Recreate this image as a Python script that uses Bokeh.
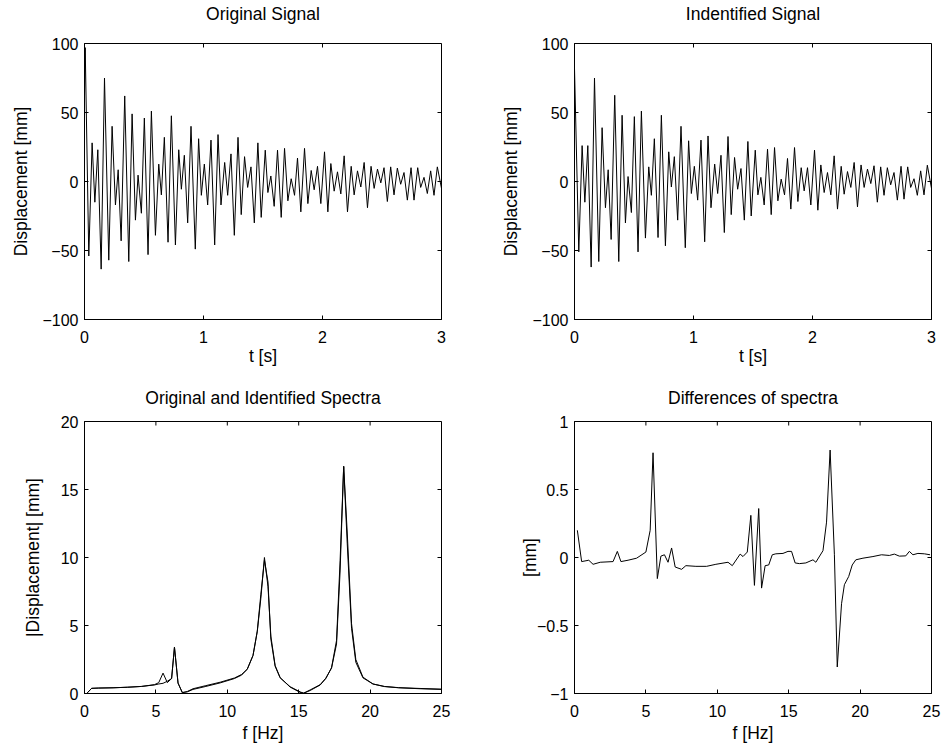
from bokeh.plotting import figure
from bokeh.models import Range1d, FixedTicker, LinearAxis
from bokeh.layouts import gridplot
from bokeh.embed import file_html
from bokeh.resources import INLINE

FONT = "Liberation Sans"

# ---- Data ----
# Original signal: (time [s], displacement [mm]) at its turning points
original_signal = [
    (0.0, 62), (0.006, 97), (0.036, -54), (0.064, 28), (0.087, -15), (0.112, 23), (0.140, -63.5),
    (0.168, 75), (0.204, -57), (0.232, 40), (0.260, -17), (0.283, 8.5), (0.308, -43), (0.338, 62),
    (0.372, -58), (0.400, 49), (0.428, -28), (0.450, 4.6), (0.478, -23), (0.503, 46), (0.534, -53),
    (0.562, 51), (0.596, -39), (0.624, 12.6), (0.646, -9.7), (0.671, 32), (0.702, -44), (0.730, 47.6),
    (0.764, -46), (0.792, 23), (0.814, -5.6), (0.839, 19), (0.867, -30), (0.895, 40), (0.931, -49),
    (0.959, 31), (0.982, -10), (1.007, 12.6), (1.035, -17), (1.063, 30), (1.094, -46), (1.122, 34),
    (1.147, -17), (1.178, 13.8), (1.203, -10), (1.231, 20), (1.259, -39), (1.290, 32), (1.317, -24),
    (1.345, 18), (1.371, -4.3), (1.399, 10.6), (1.427, -30), (1.457, 28), (1.485, -26), (1.519, 22.7),
    (1.541, -8), (1.566, 4), (1.594, -18), (1.622, 22.7), (1.653, -26), (1.681, 24), (1.709, -14),
    (1.737, 2), (1.765, -10), (1.790, 17), (1.818, -22), (1.849, 24), (1.877, -16), (1.905, 8),
    (1.930, -6), (1.958, 11), (1.986, -16), (2.017, 21.5), (2.045, -22), (2.070, 13), (2.098, -7),
    (2.126, 7), (2.154, -9), (2.182, 18.6), (2.210, -22), (2.241, 11), (2.266, -9.7), (2.294, 7.7),
    (2.322, -4), (2.350, 13.8), (2.378, -19), (2.408, 11), (2.434, -5), (2.462, 9), (2.490, -1),
    (2.517, 10), (2.545, -14.5), (2.573, 10.6), (2.601, -9.7), (2.629, 9.7), (2.657, -2), (2.685, 6.5),
    (2.713, -13.5), (2.744, 10), (2.769, -13.5), (2.800, 10), (2.825, -4.3), (2.853, 3), (2.881, -8.7),
    (2.909, 7.7), (2.937, -10), (2.965, 10.6), (3.0, -5),
]

# Identified signal: (time [s], displacement [mm])
identified_signal = [
    (0.0, 82), (0.036, -51), (0.064, 26), (0.087, -15), (0.112, 26), (0.140, -62),
    (0.168, 75), (0.204, -58), (0.232, 39), (0.260, -19), (0.283, 8.5), (0.308, -42), (0.338, 62.5),
    (0.372, -58), (0.400, 48), (0.428, -30), (0.450, 3.6), (0.478, -22.5), (0.503, 47), (0.534, -51),
    (0.562, 51), (0.596, -41), (0.624, 10.6), (0.646, -10), (0.671, 31), (0.702, -40.6), (0.730, 48),
    (0.764, -46.6), (0.792, 21.5), (0.814, -4), (0.839, 18), (0.867, -28), (0.895, 40), (0.931, -48),
    (0.959, 29.5), (0.982, -8.7), (1.007, 11), (1.035, -13.5), (1.063, 30), (1.094, -43.7), (1.122, 33),
    (1.147, -19), (1.178, 12.6), (1.203, -8.7), (1.231, 19), (1.259, -37), (1.290, 32.6), (1.317, -24),
    (1.345, 17.4), (1.371, -5.6), (1.399, 9.4), (1.427, -28), (1.457, 29), (1.485, -25), (1.519, 22.7),
    (1.541, -9.7), (1.566, 3), (1.594, -17), (1.622, 23.4), (1.653, -24), (1.681, 24.6), (1.709, -14),
    (1.737, 1.7), (1.765, -9.7), (1.790, 16.7), (1.818, -20), (1.849, 24.6), (1.877, -14.5), (1.905, 10),
    (1.930, -6.8), (1.958, 10), (1.986, -17), (2.017, 22.7), (2.045, -20.8), (2.070, 12), (2.098, -8),
    (2.126, 6.5), (2.154, -9.7), (2.182, 18.6), (2.210, -20), (2.241, 11), (2.266, -9.2), (2.294, 7.2),
    (2.322, -4.3), (2.350, 13.8), (2.378, -18.4), (2.408, 12), (2.434, -4.3), (2.462, 9), (2.490, -1.5),
    (2.517, 11.4), (2.545, -15), (2.573, 10.6), (2.601, -10), (2.629, 10), (2.657, -2.4), (2.685, 6.5),
    (2.713, -13.5), (2.744, 11), (2.769, -12.8), (2.800, 10.6), (2.825, -4.3), (2.853, 2), (2.881, -10),
    (2.909, 7.7), (2.937, -9.7), (2.965, 11.8), (3.0, -5),
]

# Spectra: frequency [Hz], original |X| [mm], identified |X| [mm]
spec_freq = [0.2, 0.5, 1.0, 2.0, 3.0, 4.0, 4.9, 5.2, 5.5, 5.8, 6.1, 6.3, 6.55, 6.85, 7.2, 7.6,
             8.5, 9.5, 10.5, 11.0, 11.4, 11.8, 12.1, 12.35, 12.6, 12.85, 13.05, 13.35, 13.7, 14.4,
             15.1, 15.35, 15.8, 16.5, 16.9, 17.3, 17.65, 17.9, 18.15, 18.4, 18.7, 19.0, 19.5, 20.2,
             21.0, 22.0, 23.5, 25.0]
spec_original = [0.05, 0.38, 0.40, 0.42, 0.46, 0.52, 0.65, 0.80, 1.50, 0.80, 1.10, 3.42, 0.75, 0.08,
                 0.12, 0.30, 0.52, 0.78, 1.10, 1.35, 1.80, 2.80, 4.60, 7.30, 9.80, 8.20, 4.00, 2.00,
                 1.15, 0.50, 0.12, 0.02, 0.22, 0.62, 1.10, 1.90, 3.90, 9.80, 16.7, 11.0, 4.80, 2.30,
                 1.15, 0.70, 0.52, 0.43, 0.37, 0.32]
spec_identified = [0.05, 0.38, 0.40, 0.42, 0.46, 0.52, 0.63, 0.70, 0.75, 0.90, 1.10, 3.40, 0.78, 0.05,
                   0.15, 0.35, 0.58, 0.83, 1.14, 1.40, 1.78, 2.79, 4.56, 7.00, 10.0, 7.85, 4.22, 2.06,
                   1.17, 0.47, 0.08, 0.03, 0.26, 0.65, 1.13, 1.87, 3.64, 9.01, 16.7, 11.8, 5.14, 2.50,
                   1.20, 0.70, 0.51, 0.42, 0.35, 0.30]

# Differences of spectra: frequency [Hz], difference [mm]
diff_freq = [0.2, 0.5, 1.0, 1.3, 1.8, 2.7, 3.0, 3.25, 3.75, 4.35, 5.0, 5.3, 5.5, 5.8, 6.05, 6.3,
             6.55, 6.8, 7.05, 7.5, 7.8, 8.5, 9.25, 9.9, 10.75, 11.05, 11.6, 11.8, 12.1, 12.35, 12.6,
             12.9, 13.1, 13.35, 13.6, 13.85, 14.1, 14.6, 14.95, 15.2, 15.45, 15.75, 16.2, 16.7, 16.9,
             17.4, 17.65, 17.9, 18.2, 18.4, 18.7, 18.9, 19.2, 19.45, 19.7, 20.2, 20.9, 21.5, 22.05,
             22.4, 22.75, 23.2, 23.45, 23.7, 24.05, 24.5, 24.9]
diff_values = [0.2, -0.03, -0.02, -0.05, -0.035, -0.03, 0.045, -0.03, -0.02, -0.005, 0.04, 0.2, 0.77,
               -0.155, 0.01, 0.02, -0.035, 0.07, -0.07, -0.087, -0.06, -0.065, -0.065, -0.05, -0.035,
               -0.06, 0.025, 0.007, 0.04, 0.31, -0.205, 0.36, -0.225, -0.06, -0.055, 0.02, 0.027, 0.03,
               0.045, 0.045, -0.04, -0.045, -0.04, -0.017, -0.035, 0.05, 0.26, 0.79, 0.02, -0.805, -0.34,
               -0.2, -0.14, -0.055, -0.017, -0.005, 0.007, 0.02, 0.015, 0.025, 0.01, 0.012, 0.045, 0.02,
               0.03, 0.027, 0.02]

# Ticks and tick labels
time_ticks = [0, 1, 2, 3]
disp_ticks = [-100, -50, 0, 50, 100]
disp_labels = ["\u2212100", "\u221250", "0", "50", "100"]
freq_ticks = [0, 5, 10, 15, 20, 25]
spec_ticks = [0, 5, 10, 15, 20]
diff_ticks = [-1, -0.5, 0, 0.5, 1]
diff_labels = ["\u22121", "\u22120.5", "0", "0.5", "1"]

TICK_FS = "16px"
LABEL_FS = "17.5px"
TICK_LEN = 4


def style_axis(ax, ticks, labels=None):
    ax.ticker = FixedTicker(ticks=ticks, minor_ticks=[])
    ax.axis_line_color = "black"
    ax.axis_line_width = 1
    ax.major_tick_in = TICK_LEN
    ax.major_tick_out = 0
    ax.major_tick_line_color = "black"
    ax.minor_tick_line_color = None
    ax.major_label_text_font = FONT
    ax.major_label_text_color = "black"
    ax.major_label_text_font_size = TICK_FS
    ax.axis_label_text_font = FONT
    ax.axis_label_text_font_size = LABEL_FS
    ax.axis_label_text_font_style = "normal"
    ax.axis_label_text_color = "black"
    if labels is not None:
        ax.major_label_overrides = dict(zip(ticks, labels))


def make_fig(title, xr, yr, xticks, yticks, ylabels, xlabel, ylabel,
             width, height, bl, br, bt, bb, title_gap, ylab_standoff, xlab_standoff):
    p = figure(width=width, height=height, output_backend="svg", toolbar_location=None,
               x_range=Range1d(*xr), y_range=Range1d(*yr),
               min_border_left=bl, min_border_right=br, min_border_top=bt, min_border_bottom=bb)
    p.title.visible = False
    p.xgrid.visible = False
    p.ygrid.visible = False
    p.outline_line_color = "black"
    p.outline_line_width = 1
    p.outline_line_alpha = 1
    p.background_fill_color = "white"
    p.border_fill_color = "white"

    style_axis(p.xaxis[0], xticks)
    p.xaxis[0].axis_label = xlabel
    p.xaxis[0].major_label_standoff = 11
    p.xaxis[0].axis_label_standoff = xlab_standoff
    style_axis(p.yaxis[0], yticks, ylabels)
    p.yaxis[0].axis_label = ylabel
    p.yaxis[0].major_label_standoff = 6
    p.yaxis[0].axis_label_standoff = ylab_standoff

    # title: label of a tick-less band above the box, a fixed gap above it
    head = LinearAxis(ticker=FixedTicker(ticks=[], minor_ticks=[]), axis_label=title,
                      axis_label_standoff=title_gap, axis_label_text_font=FONT,
                      axis_label_text_font_size=LABEL_FS, axis_label_text_font_style="normal",
                      axis_label_text_color="black", major_tick_out=0, major_tick_in=0,
                      minor_tick_out=0, minor_tick_in=0, major_label_standoff=0,
                      axis_line_color=None, major_tick_line_color=None, minor_tick_line_color=None)
    p.add_layout(head, "above")

    # inward ticks on the top and right sides of the box (MATLAB style)
    p.ray(x=xticks, y=[yr[1]] * len(xticks), length=TICK_LEN, length_units="screen",
          angle=-90, angle_units="deg", line_color="black", line_width=1)
    p.ray(x=[xr[1]] * len(yticks), y=yticks, length=TICK_LEN, length_units="screen",
          angle=180, angle_units="deg", line_color="black", line_width=1)
    return p


ot, oy = zip(*original_signal)
it, iy = zip(*identified_signal)

p1 = make_fig("Original Signal", (0, 3), (-100, 100), time_ticks, disp_ticks, disp_labels,
              "t [s]", "Displacement [mm]", 451, 369, 84, 10, 43, 50, 20, 8, 0)
p1.line(list(ot), list(oy), line_color="black", line_width=1)

p2 = make_fig("Indentified Signal", (0, 3), (-100, 100), time_ticks, disp_ticks, disp_labels,
              "t [s]", "Displacement [mm]", 490, 369, 123, 10, 43, 50, 20, 8, 0)
p2.line(list(it), list(iy), line_color="black", line_width=1)

p3 = make_fig("Original and Identified Spectra", (0, 25), (0, 20), freq_ticks, spec_ticks, None,
              "f [Hz]", "|Displacement| [mm]", 451, 376, 84, 10, 52, 48, 14, 15, 3)
p3.line(spec_freq, spec_original, line_color="black", line_width=1)
p3.line(spec_freq, spec_identified, line_color="black", line_width=1)

p4 = make_fig("Differences of spectra", (0, 25), (-1, 1), freq_ticks, diff_ticks, diff_labels,
              "f [Hz]", "[mm]", 490, 376, 123, 10, 52, 48, 14, -6, 3)
p4.line(diff_freq, diff_values, line_color="black", line_width=1)

grid = gridplot([[p1, p2], [p3, p4]], toolbar_location=None)

open("out.html", "w").write(file_html(grid, INLINE))
